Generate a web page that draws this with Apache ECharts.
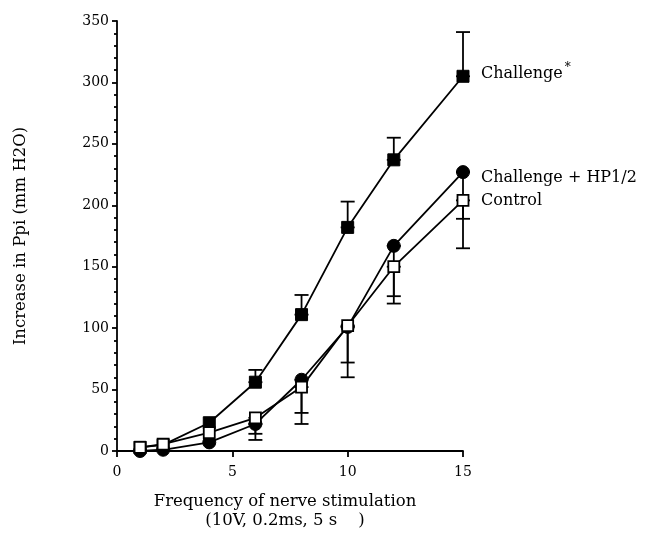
<!DOCTYPE html>
<html>
<head>
<meta charset="utf-8">
<script src="https://cdn.jsdelivr.net/npm/echarts@6/dist/echarts.min.js"></script>
<style>html,body{margin:0;padding:0;background:#fff;}#c{width:649px;height:535px;}</style>
</head>
<body>
<div id="c"></div>
<script>
var freq = [1, 2, 4, 6, 8, 10, 12, 15];
var challenge = [3, 5, 23, 56, 111, 182, 237, 305];
var challengeHP = [0, 1, 7, 22, 58, 101, 167, 227];
var control = [3, 5.5, 15, 27, 52, 102, 150, 204];
// error bars: [x, low, high]
var challengeErr = [[6, 56, 66], [8, 111, 127], [10, 182, 203], [12, 237, 255], [15, 305, 341]];
var challengeHPErr = [[6, 14, 22], [8, 31, 58], [10, 72, 101], [12, 126, 167], [15, 189, 227]];
var controlErr = [[6, 9, 27], [8, 22, 52], [10, 60, 102], [12, 120, 150], [15, 165, 204]];
var yTicks = [0, 350, 50];
var xTicks = [0, 15, 5];

var FONT = 'DejaVu Serif';
function pairs(xs, ys) { return xs.map(function (x, i) { return [x, ys[i]]; }); }
function errSeries(data, z) {
  return {
    type: 'custom', z: z, silent: true,
    data: data,
    encode: { x: 0, y: [1, 2] },
    renderItem: function (params, api) {
      var x = api.value(0);
      var lo = api.coord([x, api.value(1)]);
      var hi = api.coord([x, api.value(2)]);
      var w = 7;
      var st = { stroke: '#000', lineWidth: 1.8 };
      return {
        type: 'group',
        children: [
          { type: 'line', shape: { x1: lo[0], y1: lo[1], x2: hi[0], y2: hi[1] }, style: st },
          { type: 'line', shape: { x1: lo[0] - w, y1: lo[1], x2: lo[0] + w, y2: lo[1] }, style: st },
          { type: 'line', shape: { x1: hi[0] - w, y1: hi[1], x2: hi[0] + w, y2: hi[1] }, style: st }
        ]
      };
    }
  };
}
var chart = echarts.init(document.getElementById('c'));
chart.setOption({
  animation: false,
  backgroundColor: '#fff',
  textStyle: { fontFamily: FONT, color: '#000' },
  grid: { left: 117, right: 186, top: 21, bottom: 83 },
  xAxis: {
    type: 'value', min: xTicks[0], max: xTicks[1], interval: xTicks[2],
    name: 'Frequency of nerve stimulation\n(10V, 0.2ms, 5 s    )',
    nameLocation: 'middle', nameGap: 41,
    nameTextStyle: { fontFamily: FONT, fontSize: 16.5, color: '#000', lineHeight: 19, padding: [0, 10, 0, 0] },
    axisLine: { lineStyle: { color: '#000', width: 1.8 } },
    axisTick: { show: true, length: 6, lineStyle: { color: '#000', width: 1.8 } },
    axisLabel: { fontFamily: FONT, fontSize: 14, color: '#000', margin: 14 },
    splitLine: { show: false }
  },
  yAxis: {
    type: 'value', min: yTicks[0], max: yTicks[1], interval: yTicks[2],
    name: 'Increase in Ppi (mm H2O)',
    nameLocation: 'middle', nameGap: 88,
    nameTextStyle: { fontFamily: FONT, fontSize: 16.5, color: '#000' },
    axisLine: { show: true, lineStyle: { color: '#000', width: 1.8 } },
    axisTick: { show: true, length: 5, lineStyle: { color: '#000', width: 1.8 } },
    minorTick: { show: true, splitNumber: 5, length: 3, lineStyle: { color: '#000', width: 1.8 } },
    axisLabel: { fontFamily: FONT, fontSize: 14, color: '#000', margin: 8 },
    splitLine: { show: false }
  },
  series: [
    errSeries(challengeErr, 1),
    errSeries(challengeHPErr, 1),
    errSeries(controlErr, 1),
    {
      name: 'Challenge', type: 'line', z: 3, data: pairs(freq, challenge),
      symbol: 'rect', symbolSize: 12, showAllSymbol: true,
      lineStyle: { color: '#000', width: 1.8 },
      itemStyle: { color: '#000', borderColor: '#000', borderWidth: 1 },
      endLabel: { show: true, offset: [10, -2], fontFamily: FONT, fontSize: 16, color: '#000',
        formatter: '{a|Challenge}{s|*}',
        rich: { a: { fontFamily: FONT, fontSize: 16, color: '#000' }, s: { fontFamily: FONT, fontSize: 12, color: '#000', verticalAlign: 'top', padding: [0, 0, 12, 2] } } }
    },
    {
      name: 'Challenge + HP1/2', type: 'line', z: 4, data: pairs(freq, challengeHP),
      symbol: 'circle', symbolSize: 13, showAllSymbol: true,
      lineStyle: { color: '#000', width: 1.8 },
      itemStyle: { color: '#000', borderColor: '#000', borderWidth: 1 },
      endLabel: { show: true, offset: [10, 6], fontFamily: FONT, fontSize: 16, color: '#000', formatter: 'Challenge + HP1/2' }
    },
    {
      name: 'Control', type: 'line', z: 5, data: pairs(freq, control),
      symbol: 'rect', symbolSize: 11, showAllSymbol: true,
      lineStyle: { color: '#000', width: 1.8 },
      itemStyle: { color: '#fff', borderColor: '#000', borderWidth: 1.8 },
      endLabel: { show: true, offset: [10, 0], fontFamily: FONT, fontSize: 16, color: '#000', formatter: 'Control' }
    }
  ]
});
</script>
</body>
</html>
